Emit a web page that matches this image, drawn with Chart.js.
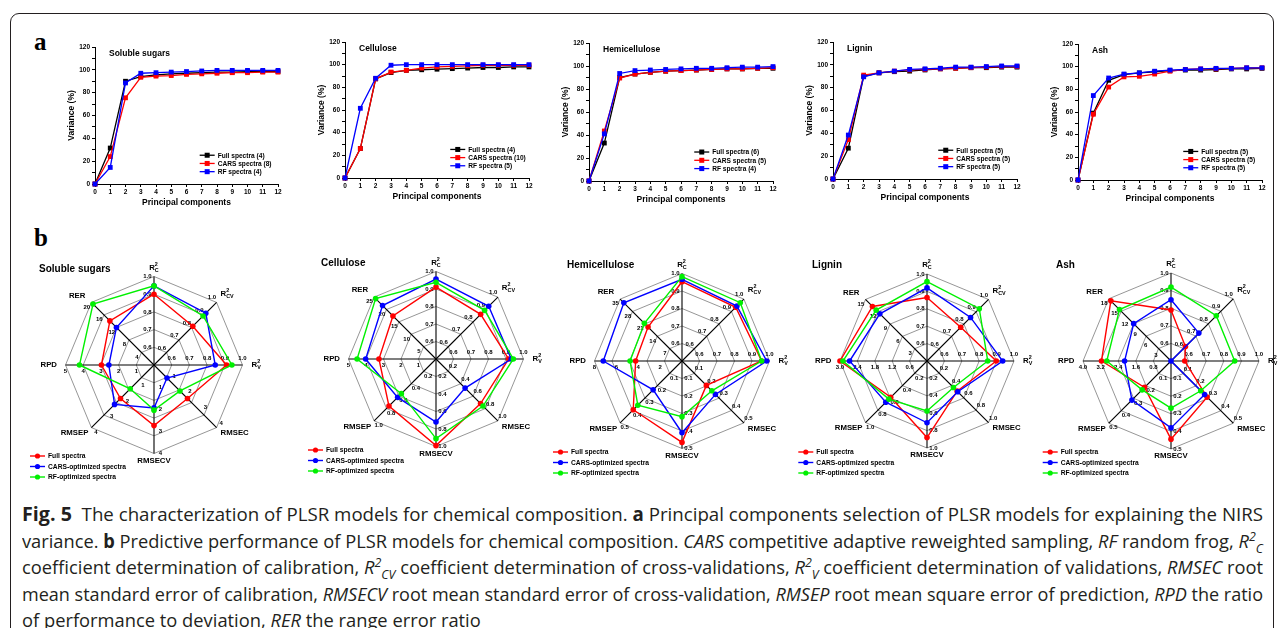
<!DOCTYPE html>
<html><head><meta charset="utf-8">
<script src="https://cdn.jsdelivr.net/npm/chart.js@4.4.1/dist/chart.umd.min.js"></script>
<style>
html,body{margin:0;padding:0;background:#fff;}
body{width:1285px;height:628px;overflow:hidden;position:relative;font-family:'Liberation Sans',Arial,sans-serif;}
.frame{position:absolute;left:10px;top:13px;width:1264px;height:625px;border:1px solid #231f20;border-radius:9px;box-sizing:border-box;}
canvas{position:absolute;}
.pl{position:absolute;font-family:'Liberation Serif','Times New Roman',serif;font-weight:bold;font-size:25px;line-height:25px;color:#000;}
.cap{position:absolute;left:22px;top:501px;font-family:'Open Sans',sans-serif;font-size:19px;line-height:26.5px;color:#231f20;}
.cap .ln{white-space:nowrap;transform-origin:0 50%;width:max-content;}
.cap .fig{font-size:20px;}
.cap sup,.cap sub{font-size:0.68em;line-height:0;}
</style></head>
<body>
<div class="frame"></div>
<div class="pl" style="left:34px;top:29px;">a</div>
<div class="pl" style="left:34px;top:225px;">b</div>
<div class="cap">
<div class="ln"><b class="fig">Fig. 5</b>&nbsp; The characterization of PLSR models for chemical composition. <b>a</b> Principal components selection of PLSR models for explaining the NIRS</div>
<div class="ln">variance. <b>b</b> Predictive performance of PLSR models for chemical composition. <i>CARS</i> competitive adaptive reweighted sampling, <i>RF</i> random frog, <i>R<sup>2</sup><sub>C</sub></i></div>
<div class="ln">coefficient determination of calibration, <i>R<sup>2</sup><sub>CV</sub></i> coefficient determination of cross-validations, <i>R<sup>2</sup><sub>V</sub></i> coefficient determination of validations, <i>RMSEC</i> root</div>
<div class="ln">mean standard error of calibration, <i>RMSECV</i> root mean standard error of cross-validation, <i>RMSEP</i> root mean square error of prediction, <i>RPD</i> the ratio</div>
<div class="ln">of performance to deviation, <i>RER</i> the range error ratio</div>
</div>
<script>
// ---------------- Panel a data: cumulative explained variance (%) ----------------
const pcs = [0,1,2,3,4,5,6,7,8,9,10,11,12];
const sugarFull = [0,31.5,90,94,95.5,96.5,97,97.5,98,98,98.5,98.5,98.5];
const sugarCars = [0,24,75.5,93.5,94.5,95,96,96.5,97,97.5,97.5,98,98];
const sugarRf   = [0,14.5,88.5,97,97.5,98,98.5,99,99.5,99.5,99.5,99.5,99.5];
const celluFull = [0,26,87.5,93,95,95.5,96,96.5,97,97.5,97.5,98,98];
const celluCars = [0,26,87.5,93.5,95,97,98,98.5,99,99.5,99.5,99.5,99.5];
const celluRf   = [0,61.5,88,99.5,100,100,100,100,100,100,100,100,100];
const hemiFull  = [0,33,90,93,94.5,95.5,96,96.5,97,97.5,97.5,98,98];
const hemiCars  = [0,43.5,89.5,93,94.5,95.5,96,96.5,97,97.5,97.5,98,98.5];
const hemiRf    = [0,41,93.5,96,96.5,97,97.5,98,98,98.5,99,99,99.5];
const ligFull   = [0,27,90,93,94,94.5,95.5,96.5,97,97.5,97.5,98,98];
const ligCars   = [0,34.5,91,93,94.5,95.5,96,96.5,97,97.5,98,98.5,98.5];
const ligRf     = [0,38.5,89.5,93,94.5,96,96.5,97,98,98,98.5,99,99];
const ashFull   = [0,59,88,93,94.5,95.5,96.5,97,97,97.5,98,98,98.5];
const ashCars   = [0,58,82,91,91.5,93.5,96,97.5,98,98,98.5,99,99];
const ashRf     = [0,74.5,90,93.5,94.5,96,97,97.5,98,98.5,98.5,99,99];
// number of PCs selected [Full, CARS, RF]
const sugarPCs = [4,8,4];
const celluPCs = [4,10,5];
const hemiPCs  = [6,5,4];
const ligPCs   = [5,5,5];
const ashPCs   = [5,5,5];
const varTicksMajor = 20;

// ---------------- Panel b data: model statistics ----------------
// axis order: R2C, R2CV, R2V, RMSEC, RMSECV, RMSEP, RPD, RER
const radarAxes = ['R2C','R2CV','R2V','RMSEC','RMSECV','RMSEP','RPD','RER'];
const r2Ticks = ['0.6','0.7','0.8','0.9','1.0'];

const sugarStatFull = [0.90,0.81,0.91,2.14,2.74,2.14,2.97,14.1];
const sugarStatCars = [0.947,0.914,0.846,0.83,1.94,2.52,2.55,12.0];
const sugarStatRf   = [0.947,0.892,0.94,1.66,2.04,1.52,4.21,19.5];
const sugarAxisMin  = [0.5,0.5,0.5,0,0,0,0,0];
const sugarAxisMax  = [1,1,1,4,4,4,5,20];
const sugarAxisTicks = [r2Ticks,r2Ticks,r2Ticks,['1','2','3','4'],['1','2','3','4'],['1','2','3','4'],['1','2','3','4','5'],['4','8','12','16','20']];

const celluStatFull = [0.911,0.861,0.915,0.72,0.99,0.76,3.26,17.4];
const celluStatCars = [0.957,0.926,0.93,0.47,0.72,0.62,4.02,21.6];
const celluStatRf   = [0.938,0.893,0.942,0.76,0.91,0.56,4.51,24.4];
const celluAxisMin  = [0.5,0.5,0.5,0,0,0,0,0];
const celluAxisMax  = [1,1,1,1,1,1,5,25];
const celluAxisTicks = [r2Ticks,r2Ticks,r2Ticks,['0.2','0.4','0.6','0.8','1.0'],['0.2','0.4','0.6','0.8','1.0'],['0.2','0.4','0.6','0.8','1.0'],['1','2','3','4','5'],['5','10','15','20','25']];

const hemiStatFull = [0.953,0.934,0.955,0.197,0.465,0.394,4.24,19.2];
const hemiStatCars = [0.967,0.944,0.984,0.27,0.41,0.233,7.2,32.9];
const hemiStatRf   = [0.982,0.971,0.955,0.241,0.318,0.357,4.75,21.3];
const hemiAxisMin  = [0.5,0.5,0.5,0,0,0,0,0];
const hemiAxisMax  = [1,1,1,0.5,0.5,0.5,8,35];
const hemiAxisTicks = [r2Ticks,r2Ticks,r2Ticks,['0.1','0.2','0.3','0.4','0.5'],['0.1','0.2','0.3','0.4','0.5'],['0.1','0.2','0.3','0.4','0.5'],['2','4','6','8'],['7','14','21','28','35']];

const ligStatFull = [0.865,0.774,0.898,0.49,0.88,0.59,3.0,13.3];
const ligStatCars = [0.92,0.854,0.935,0.50,0.71,0.67,2.67,11.5];
const ligStatRf   = [0.956,0.925,0.849,0.43,0.575,0.62,2.9,12.4];
const ligAxisMin  = [0.5,0.5,0.5,0,0,0,0,0];
const ligAxisMax  = [1,1,1,1,1,1,3,15];
const ligAxisTicks = [r2Ticks,r2Ticks,r2Ticks,['0.2','0.4','0.6','0.8','1.0'],['0.2','0.4','0.6','0.8','1.0'],['0.2','0.4','0.6','0.8','1.0'],['0.6','1.2','1.8','2.4','3.0'],['3','6','9','12','15']];

const ashStatFull = [0.79,0.616,0.578,0.29,0.444,0.212,3.16,17.4];
const ashStatCars = [0.848,0.724,0.5,0.27,0.38,0.314,2.11,10.8];
const ashStatRf   = [0.92,0.864,0.862,0.239,0.268,0.232,2.92,14.9];
const ashAxisMin  = [0.5,0.5,0.5,0,0,0,0,0];
const ashAxisMax  = [1,1,1,0.5,0.5,0.5,4,18];
const ashAxisTicks = [r2Ticks,r2Ticks,r2Ticks,['0.1','0.2','0.3','0.4','0.5'],['0.1','0.2','0.3','0.4','0.5'],['0.1','0.2','0.3','0.4','0.5'],['0.8','1.6','2.4','3.2','4.0'],['3','6','9','12','15','18']];

const radarLegend = ['Full spectra','CARS-optimized spectra','RF-optimized spectra'];

// ---------------- rendering ----------------
const FAM = "'Liberation Sans', Arial, Helvetica, sans-serif";
Chart.defaults.font.family = FAM;
Chart.defaults.color = '#000';
const RED = '#ff0000', BLUE = '#0000ff', GREEN = '#00f000', BLACK = '#000000';

const lineDeco = {
  id: 'lineDeco',
  afterDraw(chart, args, o) {
    const ctx = chart.ctx, a = chart.chartArea;
    ctx.save();
    ctx.fillStyle = '#000';
    ctx.font = 'bold 8.5px ' + FAM;
    ctx.textAlign = 'left'; ctx.textBaseline = 'middle';
    ctx.fillText(o.title, a.left + 14, a.top + 6.5);
    const rows = [0.79, 0.85, 0.91];
    const x0 = a.left + 0.572 * (a.right - a.left);
    const order = [0, 1, 2];
    ctx.font = 'bold 6.6px ' + FAM;
    order.forEach((di, k) => {
      const ds = chart.data.datasets[di];
      const y = a.top + rows[k] * (a.bottom - a.top);
      ctx.strokeStyle = ds.borderColor; ctx.lineWidth = 1.3;
      ctx.beginPath(); ctx.moveTo(x0, y); ctx.lineTo(x0 + 15, y); ctx.stroke();
      ctx.fillStyle = ds.borderColor;
      ctx.fillRect(x0 + 5, y - 2.5, 5, 5);
      ctx.fillStyle = '#000';
      ctx.fillText(ds.label, x0 + 18, y + 0.5);
    });
    ctx.restore();
  }
};

function lineDs(label, data, color, order) {
  return {label, data, borderColor: color, backgroundColor: color, pointBackgroundColor: color,
    pointBorderColor: color, borderWidth: 1.3, pointRadius: 3.4, pointStyle: 'rect',
    pointBorderWidth: 0, tension: 0, order, clip: 8};
}

function lineChart(box, title, pcCount, full, cars, rf) {
  const padL = 12, yW = 28, padT = 12, xH = 24, padB = 2, padR = 10;
  const cv = document.createElement('canvas');
  const w = padL + yW + box.W + padR, h = padT + box.H + xH + padB;
  cv.width = w; cv.height = h;
  cv.style.left = (box.L - padL - yW) + 'px'; cv.style.top = (box.T - padT) + 'px';
  document.body.appendChild(cv);
  const tickFont = {size: 6.5, weight: 'bold', family: FAM};
  const titleFont = {size: 8.5, weight: 'bold', family: FAM};
  const grid = {display: true, drawOnChartArea: false, drawTicks: true, tickLength: 3, color: '#000', lineWidth: 1};
  new Chart(cv, {
    type: 'line',
    data: {labels: pcs, datasets: [
      lineDs('Full spectra (' + pcCount[0] + ')', full, BLACK, 2),
      lineDs('CARS spectra (' + pcCount[1] + ')', cars, RED, 1),
      lineDs('RF spectra (' + pcCount[2] + ')', rf, BLUE, 0)
    ]},
    options: {
      responsive: false, animation: false, events: [],
      layout: {padding: {left: padL, top: padT, right: padR, bottom: padB}},
      plugins: {legend: {display: false}, tooltip: {enabled: false}, lineDeco: {title}},
      scales: {
        x: {type: 'linear', min: 0, max: 12,
          ticks: {stepSize: 1, font: tickFont, color: '#000', padding: 1, maxRotation: 0, autoSkip: false},
          grid, border: {display: true, color: '#000', width: 1},
          title: {display: true, text: 'Principal components', font: titleFont, color: '#000', padding: 0},
          afterFit: s => { s.height = xH; }},
        y: {min: 0, max: 120,
          ticks: {stepSize: 10, font: tickFont, color: '#000', padding: 2,
            callback: v => (v % varTicksMajor === 0 ? v : '')},
          grid, border: {display: true, color: '#000', width: 1},
          title: {display: true, text: 'Variance (%)', font: titleFont, color: '#000', padding: 0},
          afterFit: s => { s.width = yW; }}
      }
    },
    plugins: [lineDeco]
  });
}

lineChart({L: 95, T: 47, W: 183, H: 137}, 'Soluble sugars', sugarPCs, sugarFull, sugarCars, sugarRf);
lineChart({L: 345, T: 42, W: 184, H: 136}, 'Cellulose', celluPCs, celluFull, celluCars, celluRf);
lineChart({L: 589, T: 43, W: 184, H: 138}, 'Hemicellulose', hemiPCs, hemiFull, hemiCars, hemiRf);
lineChart({L: 833, T: 42, W: 184, H: 137}, 'Lignin', ligPCs, ligFull, ligCars, ligRf);
lineChart({L: 1078, T: 44, W: 184, H: 136}, 'Ash', ashPCs, ashFull, ashCars, ashRf);

// axis name pieces: [text, 'n'|'sup'|'sub']
const axisNameParts = {
  R2C: [['R','n'],['2','sup'],['C','sub']],
  R2CV: [['R','n'],['2','sup'],['CV','sub']],
  R2V: [['R','n'],['2','sup'],['V','sub']],
  RMSEC: [['RMSEC','n']], RMSECV: [['RMSECV','n']], RMSEP: [['RMSEP','n']],
  RPD: [['RPD','n']], RER: [['RER','n']]
};
const nameLayout = [
  {dx: 0, dy: -9, al: 'center'}, {dx: 4, dy: -9, al: 'left'}, {dx: 9, dy: 0, al: 'left'},
  {dx: 4, dy: 5.5, al: 'left'}, {dx: 0, dy: 7, al: 'center'}, {dx: -3, dy: 5.5, al: 'right'},
  {dx: -8.5, dy: 0, al: 'right'}, {dx: -6, dy: -7, al: 'right'}
];

function drawName(ctx, parts, x, y, al) {
  const fN = 'bold 7.8px ' + FAM, fS = 'bold 5.4px ' + FAM;
  let widths = parts.map(p => { ctx.font = p[1] === 'n' ? fN : fS; return ctx.measureText(p[0]).width; });
  let total = 0, pos = [];
  let supStart = null;
  parts.forEach((p, i) => {
    if (p[1] === 'sub' && supStart !== null) {
      pos.push(supStart); total = Math.max(total, supStart + widths[i]);
    } else {
      if (p[1] === 'sup') supStart = total;
      pos.push(total); total += widths[i];
    }
  });
  let sx = al === 'left' ? x : al === 'right' ? x - total : x - total / 2;
  parts.forEach((p, i) => {
    ctx.font = p[1] === 'n' ? fN : fS;
    const yy = p[1] === 'sup' ? y - 3.2 : p[1] === 'sub' ? y + 2.6 : y;
    ctx.fillText(p[0], sx + pos[i], yy);
  });
}

const radarDeco = {
  id: 'radarDeco',
  beforeDatasetsDraw(chart, args, o) {
    const s = chart.scales.r, ctx = chart.ctx;
    const cx = s.xCenter, cy = s.yCenter, R = s.drawingArea;
    ctx.save();
    ctx.fillStyle = '#000';
    ctx.font = 'bold 6px ' + FAM; ctx.textAlign = 'center'; ctx.textBaseline = 'middle';
    o.ticks.forEach((labels, i) => {
      const pe = s.getPointPosition(i, R);
      const ux = (pe.x - cx) / R, uy = (pe.y - cy) / R;
      const ox = uy * 6.5, oy = -ux * 6.5;
      labels.forEach(t => {
        const f = (parseFloat(t) - o.min[i]) / (o.max[i] - o.min[i]);
        const p = s.getPointPosition(i, f * R);
        ctx.fillText(t, p.x + ox, p.y + oy);
      });
    });
    ctx.textAlign = 'left'; ctx.textBaseline = 'middle';
    chart.data.labels.forEach((lab, i) => {
      const pe = s.getPointPosition(i, R);
      const L = nameLayout[i];
      drawName(ctx, axisNameParts[lab], pe.x + L.dx, pe.y + L.dy, L.al);
    });
    ctx.font = 'bold 10px ' + FAM; ctx.textAlign = 'left';
    ctx.fillText(o.title, cx - 115, cy - 96);
    const rows = [91, 101.5, 112];
    const order = [2, 1, 0];
    const x0 = cx + o.legendDx;
    ctx.font = 'bold 6.7px ' + FAM;
    order.forEach((di, k) => {
      const ds = chart.data.datasets[di];
      const y = cy + rows[k];
      ctx.strokeStyle = ds.borderColor; ctx.lineWidth = 1.4;
      ctx.beginPath(); ctx.moveTo(x0, y); ctx.lineTo(x0 + 15, y); ctx.stroke();
      ctx.fillStyle = ds.borderColor;
      ctx.beginPath(); ctx.arc(x0 + 7.5, y, 2.6, 0, Math.PI * 2); ctx.fill();
      ctx.fillStyle = '#000';
      ctx.fillText(ds.label, x0 + 18, y + 0.5);
    });
    ctx.restore();
  }
};

function norm(vals, mn, mx) { return vals.map((v, i) => Math.max(0, (v - mn[i]) / (mx[i] - mn[i]))); }
function radarDs(label, data, color, order) {
  return {label, data, borderColor: color, backgroundColor: color, pointBackgroundColor: color,
    pointBorderColor: color, borderWidth: 1.4, pointRadius: 2.8, pointBorderWidth: 0, fill: false, order};
}

function radarChart(cx, cy, R, legendDx, title, full, cars, rf, mn, mx, ticks) {
  const cv = document.createElement('canvas');
  const ox = 132, oy = 108;
  cv.width = 270; cv.height = 232;
  cv.style.left = (cx - ox) + 'px'; cv.style.top = (cy - oy) + 'px';
  document.body.appendChild(cv);
  new Chart(cv, {
    type: 'radar',
    data: {labels: radarAxes, datasets: [
      radarDs(radarLegend[2], norm(rf, mn, mx), GREEN, 0),
      radarDs(radarLegend[1], norm(cars, mn, mx), BLUE, 1),
      radarDs(radarLegend[0], norm(full, mn, mx), RED, 2)
    ]},
    options: {
      responsive: false, animation: false, events: [],
      plugins: {legend: {display: false}, tooltip: {enabled: false},
        radarDeco: {title, ticks, min: mn, max: mx, legendDx}},
      scales: {r: {min: 0, max: 1, beginAtZero: true,
        ticks: {display: false, stepSize: 0.2},
        pointLabels: {display: false},
        grid: {color: '#8a8a8a', lineWidth: 0.9},
        angleLines: {display: true, color: '#000', lineWidth: 1.1},
        afterFit: s => { s.xCenter = ox; s.yCenter = oy; s.drawingArea = R; }}}
    },
    plugins: [radarDeco]
  });
}

radarChart(153.7, 365, 88.5, -124, 'Soluble sugars', sugarStatFull, sugarStatCars, sugarStatRf, sugarAxisMin, sugarAxisMax, sugarAxisTicks);
radarChart(436.3, 359.3, 87.5, -128, 'Cellulose', celluStatFull, celluStatCars, celluStatRf, celluAxisMin, celluAxisMax, celluAxisTicks);
radarChart(682, 361, 87.5, -129, 'Hemicellulose', hemiStatFull, hemiStatCars, hemiStatRf, hemiAxisMin, hemiAxisMax, hemiAxisTicks);
radarChart(926.7, 361, 87, -128.7, 'Lignin', ligStatFull, ligStatCars, ligStatRf, ligAxisMin, ligAxisMax, ligAxisTicks);
radarChart(1171.3, 361, 88, -128.3, 'Ash', ashStatFull, ashStatCars, ashStatRf, ashAxisMin, ashAxisMax, ashAxisTicks);

(function fitCaption() {
  const lines = document.querySelectorAll('.cap .ln');
  const target = 1241;
  let sum = 0, n = 0;
  lines.forEach((el, i) => {
    if (i < lines.length - 1) {
      const w = el.getBoundingClientRect().width;
      const k = target / w; sum += k; n++;
      el.style.transform = 'scaleX(' + k + ')';
    }
  });
  lines[lines.length - 1].style.transform = 'scaleX(' + (sum / n) + ')';
})();
</script>
</body></html>
